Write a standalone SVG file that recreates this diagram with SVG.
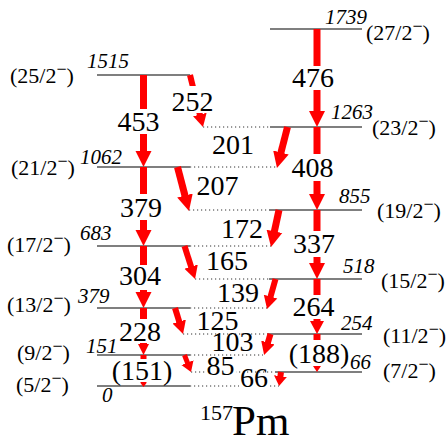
<svg xmlns="http://www.w3.org/2000/svg" width="448" height="443" viewBox="0 0 448 443">
<style>
.lv{stroke:#000;stroke-width:1.2}
.dt{stroke:#333;stroke-width:1;stroke-dasharray:1.2 2.8}
.tr line{stroke:#f00}
.w7{stroke-width:7}
.w6{stroke-width:6}
.w5{stroke-width:5}
text{font-family:'Liberation Serif','Times New Roman','DejaVu Serif',serif;fill:#000}
.e{font-style:italic;font-size:21px}
.s{font-size:22px}
.t{font-size:28px;text-anchor:middle}
.bg{fill:#fff}
.hd{fill:#f00}
</style>
<defs>
<marker id="mL" markerUnits="userSpaceOnUse" markerWidth="20" markerHeight="20" viewBox="0 -10 20 20" refX="1" refY="0" orient="auto"><path d="M0,-8L16,0L0,8Z" fill="#f00"/></marker>
<marker id="mS" markerUnits="userSpaceOnUse" markerWidth="20" markerHeight="20" viewBox="0 -10 20 20" refX="1" refY="0" orient="auto"><path d="M0,-7L13,0L0,7Z" fill="#f00"/></marker>
<marker id="mT" markerUnits="userSpaceOnUse" markerWidth="20" markerHeight="20" viewBox="0 -10 20 20" refX="1" refY="0" orient="auto"><path d="M0,-5.5L11,0L0,5.5Z" fill="#f00"/></marker>
<marker id="mW" markerUnits="userSpaceOnUse" markerWidth="20" markerHeight="20" viewBox="0 -10 20 20" refX="1" refY="0" orient="auto"><path d="M0,-6.5L10,0L0,6.5Z" fill="#f00"/></marker>
</defs>

<g id="dotted">
<line class="dt" x1="203" y1="127" x2="270" y2="127"/>
<line class="dt" x1="190" y1="167" x2="277" y2="167"/>
<line class="dt" x1="189" y1="210" x2="269" y2="210"/>
<line class="dt" x1="190" y1="246" x2="271" y2="246"/>
<line class="dt" x1="195" y1="279" x2="269" y2="279"/>
<line class="dt" x1="190" y1="308" x2="267" y2="308"/>
<line class="dt" x1="183" y1="334" x2="267" y2="334"/>
<line class="dt" x1="190" y1="355" x2="263" y2="355"/>
<line class="dt" x1="191" y1="372" x2="275" y2="372"/>
<line class="dt" x1="190" y1="386" x2="279" y2="386"/>
</g>

<g id="lvl-1739"><line class="lv" x1="270" y1="29" x2="362" y2="29"/><text class="e" x="325" y="24">1739</text><text class="s" x="366" y="40">(27/2<tspan dy="-8" font-size="18">−</tspan><tspan dy="8">)</tspan></text></g>
<g id="lvl-1515"><line class="lv" x1="97" y1="75" x2="190" y2="75"/><text class="e" x="87" y="68">1515</text><text class="s" x="10" y="83">(25/2<tspan dy="-8" font-size="18">−</tspan><tspan dy="8">)</tspan></text></g>
<g id="lvl-1263"><line class="lv" x1="270" y1="127" x2="362" y2="127"/><text class="e" x="331" y="119">1263</text><text class="s" x="372" y="135">(23/2<tspan dy="-8" font-size="18">−</tspan><tspan dy="8">)</tspan></text></g>
<g id="lvl-1062"><line class="lv" x1="97" y1="167" x2="190" y2="167"/><text class="e" x="80" y="164">1062</text><text class="s" x="11" y="175">(21/2<tspan dy="-8" font-size="18">−</tspan><tspan dy="8">)</tspan></text></g>
<g id="lvl-855"><line class="lv" x1="269" y1="210" x2="362" y2="210"/><text class="e" x="339" y="203">855</text><text class="s" x="377" y="218">(19/2<tspan dy="-8" font-size="18">−</tspan><tspan dy="8">)</tspan></text></g>
<g id="lvl-683"><line class="lv" x1="97" y1="246" x2="190" y2="246"/><text class="e" x="80" y="240">683</text><text class="s" x="7" y="252">(17/2<tspan dy="-8" font-size="18">−</tspan><tspan dy="8">)</tspan></text></g>
<g id="lvl-518"><line class="lv" x1="269" y1="279" x2="362" y2="279"/><text class="e" x="343" y="273">518</text><text class="s" x="381" y="288">(15/2<tspan dy="-8" font-size="18">−</tspan><tspan dy="8">)</tspan></text></g>
<g id="lvl-379"><line class="lv" x1="97" y1="308" x2="190" y2="308"/><text class="e" x="78" y="303">379</text><text class="s" x="7" y="312">(13/2<tspan dy="-8" font-size="18">−</tspan><tspan dy="8">)</tspan></text></g>
<g id="lvl-254"><line class="lv" x1="267" y1="334" x2="362" y2="334"/><text class="e" x="341" y="330">254</text><text class="s" x="383" y="343">(11/2<tspan dy="-8" font-size="18">−</tspan><tspan dy="8">)</tspan></text></g>
<g id="lvl-151"><line class="lv" x1="97" y1="355" x2="190" y2="355"/><text class="e" x="86" y="353">151</text><text class="s" x="17" y="360">(9/2<tspan dy="-8" font-size="18">−</tspan><tspan dy="8">)</tspan></text></g>
<g id="lvl-66"><line class="lv" x1="275" y1="372" x2="362" y2="372"/><text class="e" x="350" y="369">66</text><text class="s" x="383" y="378">(7/2<tspan dy="-8" font-size="18">−</tspan><tspan dy="8">)</tspan></text></g>
<g id="lvl-0"><line class="lv" x1="97" y1="386" x2="190" y2="386"/><text class="e" x="102" y="402">0</text><text class="s" x="16" y="392">(5/2<tspan dy="-8" font-size="18">−</tspan><tspan dy="8">)</tspan></text></g>

<g id="transitions" class="tr">
<line class="w7" x1="143.5" y1="75" x2="143.5" y2="152" marker-end="url(#mL)"/>
<line class="w7" x1="143.5" y1="167" x2="143.5" y2="231" marker-end="url(#mL)"/>
<line class="w7" x1="143.5" y1="246" x2="143.5" y2="293" marker-end="url(#mL)"/>
<line class="w7" x1="143.5" y1="308" x2="143.5" y2="345" marker-end="url(#mT)"/>
<line class="w6" x1="143.5" y1="355" x2="143.5" y2="383"/>
<polygon class="hd" points="140.5,383 146.5,383 143.5,387"/>
<line class="w7" x1="317" y1="29" x2="317" y2="112" marker-end="url(#mL)"/>
<line class="w7" x1="317" y1="127" x2="317" y2="195" marker-end="url(#mL)"/>
<line class="w7" x1="317" y1="210" x2="317" y2="264" marker-end="url(#mL)"/>
<line class="w7" x1="317" y1="279" x2="317" y2="322" marker-end="url(#mS)"/>
<line class="w7" x1="317" y1="334" x2="317" y2="366"/>
<polygon class="hd" points="313,366 321,366 317,372"/>
<line class="w6" x1="190" y1="75" x2="200.1" y2="115.4" marker-end="url(#mS)"/>
<line class="w7" x1="287.5" y1="127" x2="280.7" y2="153.5" marker-end="url(#mL)"/>
<line class="w7" x1="177.5" y1="167" x2="185.2" y2="196.5" marker-end="url(#mL)"/>
<line class="w7" x1="279" y1="210" x2="274.2" y2="232.3" marker-end="url(#mL)"/>
<line class="w6" x1="184.5" y1="246" x2="191.4" y2="267.6" marker-end="url(#mS)"/>
<line class="w6" x1="275.5" y1="279" x2="270.3" y2="297.5" marker-end="url(#mS)"/>
<line class="w6" x1="175" y1="308" x2="179.5" y2="322.5" marker-end="url(#mS)"/>
<line class="w6" x1="270.5" y1="334" x2="267.6" y2="343.5" marker-end="url(#mS)"/>
<line class="w5" x1="184.5" y1="355" x2="187.8" y2="363.6" marker-end="url(#mW)"/>
<line class="w6" x1="281" y1="372" x2="280.3" y2="377.1" marker-end="url(#mW)"/>
</g>

<g id="labels">
<rect class="bg" x="116" y="109" width="46" height="25"/><text class="t" x="138.5" y="131">453</text>
<rect class="bg" x="170" y="86" width="45" height="27"/><text class="t" x="192.5" y="111">252</text>
<rect class="bg" x="290" y="66" width="46" height="24"/><text class="t" x="313" y="87">476</text>
<text class="t" x="233" y="154">201</text>
<rect class="bg" x="290" y="154" width="46" height="27"/><text class="t" x="312.5" y="177">408</text>
<text class="t" x="217.5" y="195">207</text>
<rect class="bg" x="118" y="194" width="46" height="26"/><text class="t" x="141" y="217">379</text>
<text class="t" x="242" y="238">172</text>
<rect class="bg" x="291" y="231" width="46" height="26"/><text class="t" x="314" y="253">337</text>
<text class="t" x="227" y="270">165</text>
<rect class="bg" x="117" y="265" width="46" height="25"/><text class="t" x="140" y="285">304</text>
<text class="t" x="238" y="302">139</text>
<rect class="bg" x="291" y="295" width="46" height="24"/><text class="t" x="313.5" y="316">264</text>
<text class="t" x="217.5" y="330">125</text>
<rect class="bg" x="117" y="319" width="46" height="24"/><text class="t" x="140" y="341">228</text>
<text class="t" x="232.5" y="351">103</text>
<rect class="bg" x="288" y="340" width="62" height="26"/><text class="t" x="319" y="363">(188)</text>
<rect class="bg" x="206" y="366" width="30" height="12"/><text class="t" x="220.5" y="375">85</text>
<rect class="bg" x="111" y="359" width="62" height="23"/><text class="t" x="142" y="380">(151)</text>
<rect class="bg" x="239" y="380" width="31" height="10"/><text class="t" x="254" y="387">66</text>
</g>

<text id="nucleus" class="s" x="200" y="420">157<tspan x="232" y="435" font-size="43">Pm</tspan></text>
</svg>
